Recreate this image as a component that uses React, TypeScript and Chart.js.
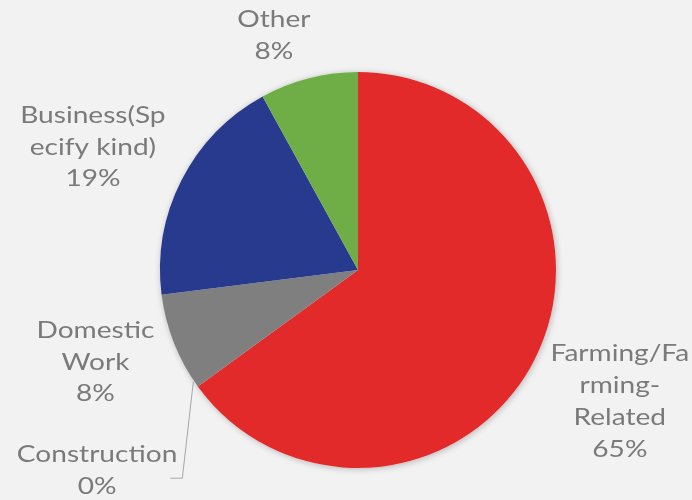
import React, { useEffect, useRef } from "react";
import { Chart, registerables } from "chart.js";

Chart.register(...registerables);

// ---- data ----
const categories: string[][] = [
  ["Farming/Fa", "rming-", "Related"],
  ["Construction"],
  ["Domestic", "Work"],
  ["Business(Sp", "ecify kind)"],
  ["Other"],
];
const values: number[] = [65, 0, 8, 19, 8];
const colors: string[] = ["#e22a2a", "#a6a6a6", "#7f7f7f", "#283a8e", "#6fad47"];

// ---- label layout (polar, clockwise from 12 o'clock, distance in pie radii) ----
const labelAngles: number[] = [116.6, 232.5, 250.7, 294.9, 340.3];
const labelDists: number[] = [1.479, 1.661, 1.405, 1.476, 1.261];
const leaderFor: boolean[] = [false, true, false, false, false];

const FONT = '24px Lato, "Open Sans", sans-serif';
const TEXT_COLOR = "#7a7a7a";
const LINE_H = 31.8;
const STRETCH = 1.17;

const labelPlugin = {
  id: "outsideLabels",
  beforeDatasetsDraw(chart: any) {
    const ctx = chart.ctx;
    const meta = chart.getDatasetMeta(0);
    const arc = meta.data[0];
    ctx.save();
    ctx.shadowColor = "rgba(0,0,0,0.25)";
    ctx.shadowBlur = 6;
    ctx.shadowOffsetX = 1;
    ctx.shadowOffsetY = 1;
    ctx.beginPath();
    ctx.arc(arc.x, arc.y, arc.outerRadius, 0, Math.PI * 2);
    ctx.fillStyle = "#f2f2f2";
    ctx.fill();
    ctx.restore();
  },
  afterDatasetsDraw(chart: any) {
    const ctx = chart.ctx;
    const meta = chart.getDatasetMeta(0);
    const total = values.reduce((a, b) => a + b, 0);
    meta.data.forEach((el: any, i: number) => {
      const cx = el.x;
      const cy = el.y;
      const r = el.outerRadius;
      const a = (labelAngles[i] * Math.PI) / 180;
      const lx = cx + labelDists[i] * r * Math.sin(a);
      const ly = cy - labelDists[i] * r * Math.cos(a);
      const lines = [...categories[i], Math.round((values[i] / total) * 100) + "%"];
      const h = lines.length * LINE_H;
      let maxW = 0;
      ctx.save();
      ctx.font = FONT;
      ctx.fillStyle = TEXT_COLOR;
      ctx.textAlign = "center";
      ctx.textBaseline = "middle";
      ctx.translate(lx, 0);
      ctx.scale(STRETCH, 1);
      lines.forEach((ln, k) => {
        maxW = Math.max(maxW, ctx.measureText(ln).width * STRETCH);
        ctx.fillText(ln, 0, ly - h / 2 + LINE_H * (k + 0.5));
      });
      ctx.restore();
      if (leaderFor[i]) {
        const mid = (el.startAngle + el.endAngle) / 2;
        const sx = cx + r * Math.cos(mid);
        const sy = cy + r * Math.sin(mid);
        const right = lx + maxW / 2;
        const ey = ly + 8;
        ctx.save();
        ctx.beginPath();
        ctx.strokeStyle = "#a6a6a6";
        ctx.lineWidth = 1;
        ctx.moveTo(sx - 4.5, sy - 4.5);
        ctx.lineTo(right + 5, ey);
        ctx.lineTo(right - 7, ey);
        ctx.stroke();
        ctx.restore();
      }
    });
  },
};

export default function App() {
  const ref = useRef<HTMLCanvasElement>(null);
  useEffect(() => {
    if (!ref.current) return;
    const chart = new Chart(ref.current, {
      type: "pie",
      data: {
        labels: categories.map((c) => c.join("")),
        datasets: [
          {
            data: values,
            backgroundColor: colors,
            borderWidth: 0,
          },
        ],
      },
      options: {
        responsive: false,
        animation: false,
        layout: { padding: { left: 160, right: 136, top: 72, bottom: 32 } },
        plugins: {
          legend: { display: false },
          tooltip: { enabled: false },
        },
      },
      plugins: [labelPlugin],
    });
    return () => chart.destroy();
  }, []);
  return (
    <div
      style={{
        position: "fixed",
        left: 0,
        top: 0,
        width: 692,
        height: 500,
        background: "#f2f2f2",
      }}
    >
      <canvas ref={ref} width={692} height={500} />
    </div>
  );
}
